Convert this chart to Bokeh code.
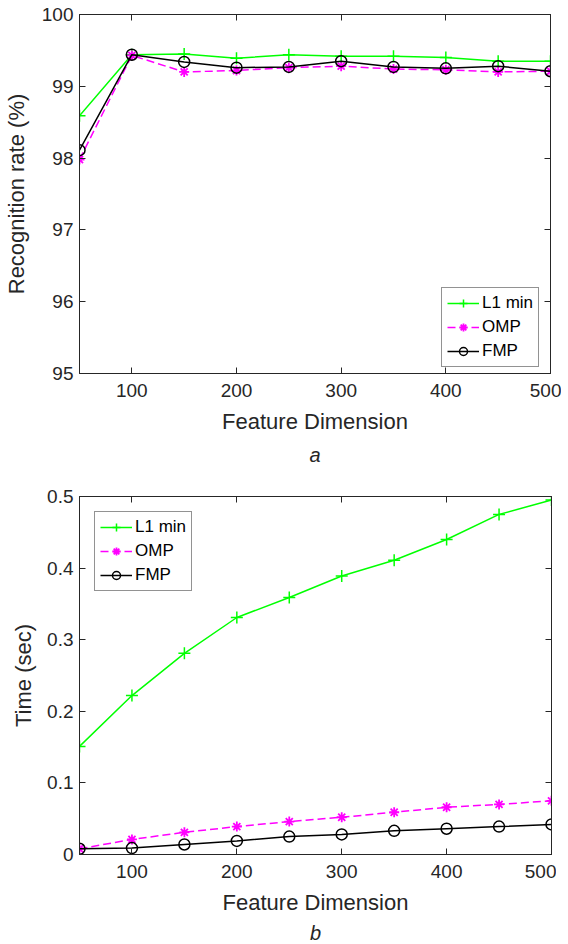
from bokeh.plotting import figure
from bokeh.layouts import column
from bokeh.models import (LinearAxis, FixedTicker, Legend, LegendItem, Title, Range1d)
from bokeh.embed import file_html
from bokeh.resources import INLINE

# ---------------- data ----------------
dims = [50, 100, 150, 200, 250, 300, 350, 400, 450, 500]

rate_l1 = [98.59, 99.44, 99.45, 99.39, 99.44, 99.42, 99.42, 99.40, 99.35, 99.35]
rate_omp = [97.98, 99.43, 99.20, 99.22, 99.26, 99.28, 99.24, 99.23, 99.20, 99.21]
rate_fmp = [98.11, 99.44, 99.34, 99.26, 99.27, 99.35, 99.27, 99.25, 99.28, 99.21]

time_l1 = [0.151, 0.222, 0.281, 0.331, 0.359, 0.389, 0.411, 0.440, 0.475, 0.495]
time_omp = [0.008, 0.021, 0.031, 0.039, 0.046, 0.052, 0.059, 0.066, 0.070, 0.075]
time_fmp = [0.008, 0.009, 0.014, 0.019, 0.025, 0.028, 0.033, 0.036, 0.039, 0.042]

x_ticks = [100, 200, 300, 400, 500]
rate_ticks = [95, 96, 97, 98, 99, 100]
time_ticks = [0, 0.1, 0.2, 0.3, 0.4, 0.5]
time_tick_labels = ["0", "0.1", "0.2", "0.3", "0.4", "0.5"]

series_names = ["L1 min", "OMP", "FMP"]

FONT = "Liberation Sans"
AX = "#262626"
GREEN = "#00ff00"
MAGENTA = "#ff00ff"


def style_axes(p, xticks, yticks, ylabel, overrides=None, ylabel_standoff=12):
    p.xaxis.ticker = FixedTicker(ticks=xticks)
    p.yaxis.ticker = FixedTicker(ticks=yticks)
    if overrides:
        p.yaxis.major_label_overrides = overrides
    p.xaxis.axis_label = "Feature Dimension"
    p.yaxis.axis_label = ylabel
    for ax in p.xaxis + p.yaxis:
        ax.major_tick_in = 6
        ax.major_tick_out = 0
        ax.minor_tick_line_color = None
        ax.axis_line_color = AX
        ax.major_tick_line_color = AX
        ax.major_label_text_font = FONT
        ax.major_label_text_font_size = "19px"
        ax.major_label_text_color = AX
        ax.axis_label_text_font = FONT
        ax.axis_label_text_font_size = "22px"
        ax.axis_label_text_font_style = "normal"
        ax.axis_label_text_color = AX
    p.xaxis.major_label_standoff = 10
    p.xaxis.axis_label_standoff = 9
    p.yaxis.major_label_standoff = 6
    p.yaxis.axis_label_standoff = ylabel_standoff
    # opposite-side ticks (labels not drawn)
    top = LinearAxis(ticker=FixedTicker(ticks=xticks), major_tick_in=6, major_tick_out=0,
                     minor_tick_line_color=None, major_label_text_font_size="1px",
                     major_label_text_color=None,
                     axis_line_color=AX, major_tick_line_color=AX, major_label_standoff=0)
    right = LinearAxis(ticker=FixedTicker(ticks=yticks), major_tick_in=6, major_tick_out=0,
                       minor_tick_line_color=None, major_label_text_font_size="1px",
                       major_label_text_color=None,
                       axis_line_color=AX, major_tick_line_color=AX, major_label_standoff=0)
    p.add_layout(top, "above")
    p.add_layout(right, "right")
    p.grid.visible = False
    p.outline_line_color = AX
    p.background_fill_color = "white"
    p.border_fill_color = "white"


def draw_series(p, x, ys):
    l1_line = p.line(x, ys[0], line_color=GREEN, line_width=1.5)
    l1_mk = p.scatter(x, ys[0], marker="cross", size=12, line_color=GREEN, line_width=1.5)
    omp_line = p.line(x, ys[1], line_color=MAGENTA, line_width=1.5, line_dash="8 4")
    omp_mk = p.scatter(x, ys[1], marker="asterisk", size=10, line_color=MAGENTA, line_width=1.8)
    fmp_line = p.line(x, ys[2], line_color="black", line_width=1.5)
    fmp_mk = p.scatter(x, ys[2], marker="circle", size=11, line_color="black",
                       fill_color=None, line_width=1.5)
    items = [
        LegendItem(label=series_names[0], renderers=[l1_line, l1_mk]),
        LegendItem(label=series_names[1], renderers=[omp_line, omp_mk]),
        LegendItem(label=series_names[2], renderers=[fmp_line, fmp_mk]),
    ]
    return items


def make_legend(items, location):
    lg = Legend(items=items, location=location)
    lg.label_text_font = FONT
    lg.label_text_font_size = "17px"
    lg.label_text_color = "black"
    lg.glyph_width = 32
    lg.glyph_height = 20
    lg.label_standoff = 3
    lg.spacing = 4
    lg.padding = 5
    lg.border_line_color = AX
    lg.border_line_width = 1
    lg.background_fill_alpha = 1
    return lg


# ---------------- top figure ----------------
p1 = figure(frame_width=471, frame_height=359, min_border_left=70, min_border_right=11,
            min_border_top=14, min_border_bottom=96,
            x_range=Range1d(50, 500), y_range=Range1d(95, 100),
            output_backend="svg", toolbar_location=None)
style_axes(p1, x_ticks, rate_ticks, "Recognition rate (%)", ylabel_standoff=10)
items1 = draw_series(p1, dims, [rate_l1, rate_omp, rate_fmp])
lg1 = make_legend(items1, (362, 6))
lg1.margin = 0
p1.add_layout(lg1)
p1.add_layout(Title(text="a", align="center", offset=-9, text_font=FONT, text_font_size="20px",
                    text_font_style="italic", text_color=AX, standoff=10), "below")

# ---------------- bottom figure ----------------
p2 = figure(frame_width=472, frame_height=358, min_border_left=67, min_border_right=13,
            min_border_top=26, min_border_bottom=80,
            x_range=Range1d(50, 500), y_range=Range1d(0, 0.5),
            output_backend="svg", toolbar_location=None)
style_axes(p2, x_ticks, time_ticks, "Time (sec)",
           overrides={t: s for t, s in zip(time_ticks, time_tick_labels)}, ylabel_standoff=8)
items2 = draw_series(p2, dims, [time_l1, time_omp, time_fmp])
lg2 = make_legend(items2, "top_left")
lg2.margin = 15
p2.add_layout(lg2)
p2.add_layout(Title(text="b", align="center", offset=-7, text_font=FONT, text_font_size="20px",
                    text_font_style="italic", text_color=AX, standoff=4), "below")

layout = column(p1, p2, spacing=0)
open("out.html", "w").write(file_html(layout, INLINE))
